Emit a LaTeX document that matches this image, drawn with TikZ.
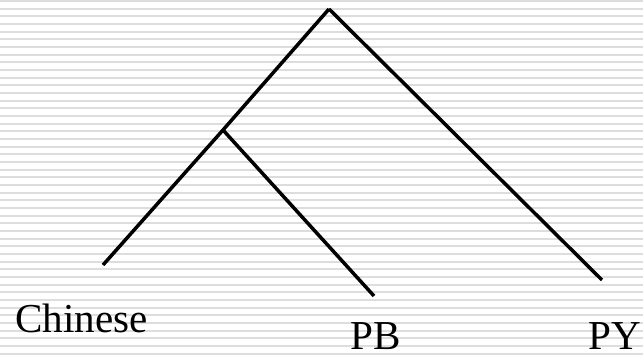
\documentclass[tikz,border=0pt]{standalone}
\usepackage{fontspec}
\setmainfont{Liberation Serif}
\usepackage{tikz}
\usetikzlibrary{positioning}

\definecolor{stripegray}{HTML}{DDDDDD}

\begin{document}
\begin{tikzpicture}[
  x=0.02cm, y=-0.02cm,
  branch/.style={draw, line width=0.07cm},
  leaf/.style={anchor=base west, inner sep=0pt, font=\fontsize{23.4}{26}\selectfont}]
  \useasboundingbox (0,0) rectangle (643,357);
  \fill[white] (0,0) rectangle (643,357);
  % background stripes
  \foreach \k in {0,...,46}
    \fill[stripegray] (0,{\k*7.67}) rectangle (643,{\k*7.67+2});
  \coordinate (root) at (329,9);
  \coordinate (mid) at (223,130);
  \coordinate (cEnd) at (103,265);
  \coordinate (bEnd) at (374,296);
  \coordinate (yEnd) at (602,280);
  \draw[branch] (root) -- (mid) -- (cEnd);
  \draw[branch] (mid) -- (bEnd);
  \draw[branch] (root) -- (yEnd);
  \node[leaf] (chinese) at (15,333) {Chinese};
  \node[leaf] (pb) at (350,350) {PB};
  \node[leaf] (py) at (588,350) {PY};
\end{tikzpicture}
\end{document}
